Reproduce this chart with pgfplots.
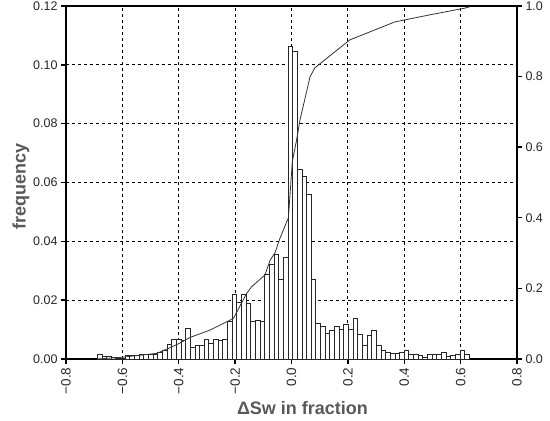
\documentclass[border=0pt]{standalone}
\usepackage{fontspec}
\setmainfont{Liberation Sans}
\usepackage{pgfplots}
\usepackage{pgfplotstable}
\pgfplotsset{compat=1.18}

% histogram of delta Sw, bin width 0.0165
\pgfplotstableread{
x        f
-0.6808  0.0014
-0.6643  0.0009
-0.6478  0.0009
-0.6313  0.0006
-0.6148  0.0003
-0.5983  0.0003
-0.5818  0.0011
-0.5653  0.0011
-0.5488  0.0011
-0.5323  0.0017
-0.5158  0.0014
-0.4993  0.0014
-0.4828  0.0017
-0.4663  0.0023
-0.4498  0.0028
-0.4333  0.0049
-0.4168  0.0068
-0.4003  0.0068
-0.3838  0.0062
-0.3673  0.0104
-0.3508  0.0040
-0.3343  0.0045
-0.3178  0.0045
-0.3013  0.0065
-0.2848  0.0054
-0.2683  0.0065
-0.2518  0.0062
-0.2353  0.0065
-0.2188  0.0128
-0.2023  0.0221
-0.1858  0.0193
-0.1693  0.0221
-0.1528  0.0190
-0.1363  0.0127
-0.1198  0.0130
-0.1033  0.0127
-0.0868  0.0289
-0.0703  0.0323
-0.0538  0.0355
-0.0373  0.0269
-0.0208  0.0345
-0.0043  0.1061
 0.0122  0.1044
 0.0287  0.0645
 0.0452  0.0620
 0.0617  0.0561
 0.0782  0.0269
 0.0947  0.0120
 0.1112  0.0110
 0.1277  0.0088
 0.1442  0.0096
 0.1607  0.0110
 0.1772  0.0102
 0.1937  0.0119
 0.2102  0.0102
 0.2267  0.0139
 0.2432  0.0085
 0.2597  0.0045
 0.2762  0.0079
 0.2927  0.0098
 0.3092  0.0045
 0.3257  0.0028
 0.3422  0.0023
 0.3587  0.0019
 0.3752  0.0019
 0.3917  0.0023
 0.4082  0.0028
 0.4247  0.0015
 0.4412  0.0017
 0.4577  0.0011
 0.4742  0.0006
 0.4907  0.0017
 0.5072  0.0017
 0.5237  0.0017
 0.5402  0.0023
 0.5567  0.0008
 0.5732  0.0011
 0.5897  0.0017
 0.6062  0.0028
 0.6227  0.0015
}\histdata

% cumulative curve (right axis)
\pgfplotstableread{
x       c
-0.690  0.000
-0.600  0.005
-0.478  0.016
-0.431  0.032
-0.399  0.044
-0.360  0.061
-0.289  0.082
-0.206  0.115
-0.159  0.186
-0.141  0.205
-0.094  0.238
-0.076  0.280
-0.059  0.300
-0.041  0.342
-0.011  0.400
 0.003  0.560
 0.018  0.620
 0.030  0.677
 0.066  0.800
 0.083  0.825
 0.207  0.904
 0.367  0.955
 0.491  0.975
 0.615  0.994
 0.633  0.998
}\cumdata

\begin{document}
\begin{tikzpicture}
\pgfplotsset{
  every axis/.append style={
    scale only axis, width=451pt, height=353pt,
    xmin=-0.8, xmax=0.8,
    tick align=outside,
    major tick length=5pt,
    major tick style={black, line width=1.4pt},
    axis line style={black, line width=2pt},
    tick label style={font=\fontsize{12.5}{14}\selectfont, color=black!85},
    label style={font=\bfseries\fontsize{18}{20}\selectfont, color=black!65},
  }
}
\begin{axis}[
  ymin=0, ymax=0.12,
  tick pos=left,
  xtick={-0.8,-0.6,-0.4,-0.2,0,0.2,0.4,0.6,0.8},
  xticklabels={−0.8,−0.6,−0.4,−0.2,0.0,0.2,0.4,0.6,0.8},
  ytick={0,0.02,0.04,0.06,0.08,0.10,0.12},
  yticklabels={0.00,0.02,0.04,0.06,0.08,0.10,0.12},
  x tick label style={rotate=90, anchor=east, font=\fontsize{13.5}{15}\selectfont},
  grid=major,
  major grid style={black, line width=0.8pt, dash pattern=on 3pt off 3pt},
  xlabel={ΔSw in fraction},
  ylabel={frequency},
  xlabel style={at={(axis description cs:0.5,0)}, anchor=center, yshift=-49pt, xshift=11pt},
  ylabel style={at={(axis description cs:0,0.49)}, anchor=center, yshift=45pt},
]
\addplot[ybar, bar width=0.0165, bar shift=0pt, fill=white, draw=black!85, line width=0.8pt]
  table[x=x, y=f] {\histdata};
\coordinate (sw) at (rel axis cs:0,0);
\coordinate (ne) at (rel axis cs:1,1);
\end{axis}
\begin{axis}[
  ymin=0, ymax=1,
  axis x line=none,
  axis y line*=right,
  ytick={0,0.2,0.4,0.6,0.8,1.0},
  yticklabels={0.0,0.2,0.4,0.6,0.8,1.0},
]
\addplot[black!80, line width=0.8pt] table[x=x, y=c] {\cumdata};
\end{axis}
\pgfresetboundingbox
\path[use as bounding box] ([shift={(-66pt,-62pt)}]sw) rectangle ([shift={(33pt,6pt)}]ne);
\end{tikzpicture}
\end{document}
